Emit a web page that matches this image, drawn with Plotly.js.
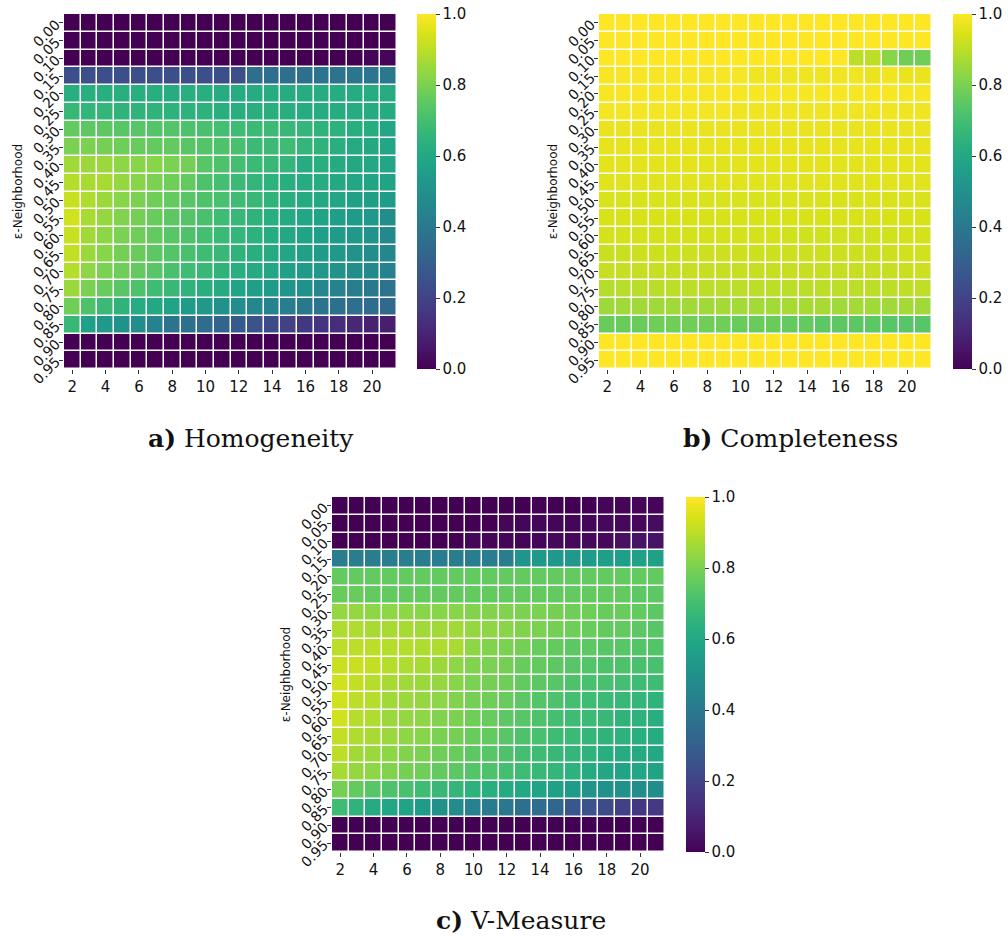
<!DOCTYPE html>
<html>
<head>
<meta charset="utf-8">
<script src="https://cdn.plot.ly/plotly-3.0.1.min.js"></script>
<style>html,body{margin:0;padding:0;background:#fff;}#chart{width:1008px;height:938px;}</style>
</head>
<body>
<div id="chart"></div>
<script>
const minPts = [2,3,4,5,6,7,8,9,10,11,12,13,14,15,16,17,18,19,20,21];
const epsLabels = ["0.00","0.05","0.10","0.15","0.20","0.25","0.30","0.35","0.40","0.45","0.50","0.55","0.60","0.65","0.70","0.75","0.80","0.85","0.90","0.95"];
const colorbarTicks = [0,0.2,0.4,0.6,0.8,1.0];
const panelTitles = ["<b>a)</b> Homogeneity","<b>b)</b> Completeness","<b>c)</b> V-Measure"];

const homogeneity = [
 [0,0,0,0,0,0,0,0,0,0,0,0,0,0,0,0,0,0,0,0],
 [0,0,0,0,0,0,0,0,0,0,0,0,0,0,0,0,0,0,0,0],
 [0,0,0,0,0,0,0,0,0,0,0,0,0,0,0,0,0,0,0.01,0.01],
 [0.24,0.24,0.24,0.24,0.24,0.24,0.24,0.24,0.24,0.24,0.24,0.36,0.36,0.37,0.37,0.38,0.38,0.39,0.39,0.40],
 [0.63,0.63,0.63,0.63,0.63,0.63,0.62,0.63,0.63,0.62,0.62,0.62,0.62,0.62,0.62,0.62,0.62,0.62,0.62,0.62],
 [0.67,0.66,0.66,0.65,0.65,0.65,0.64,0.64,0.64,0.63,0.63,0.63,0.63,0.63,0.62,0.62,0.62,0.62,0.61,0.61],
 [0.76,0.75,0.75,0.74,0.74,0.73,0.73,0.72,0.71,0.70,0.69,0.68,0.68,0.67,0.66,0.65,0.64,0.63,0.62,0.59],
 [0.80,0.80,0.79,0.78,0.77,0.76,0.76,0.74,0.73,0.72,0.71,0.68,0.68,0.69,0.66,0.65,0.63,0.61,0.60,0.59],
 [0.86,0.85,0.85,0.83,0.82,0.82,0.80,0.79,0.74,0.72,0.70,0.68,0.67,0.66,0.62,0.63,0.61,0.60,0.60,0.59],
 [0.89,0.87,0.87,0.84,0.82,0.80,0.78,0.76,0.72,0.70,0.68,0.66,0.64,0.63,0.62,0.62,0.60,0.59,0.58,0.58],
 [0.92,0.88,0.85,0.82,0.80,0.78,0.76,0.74,0.72,0.71,0.69,0.67,0.65,0.63,0.61,0.60,0.59,0.57,0.56,0.55],
 [0.93,0.87,0.84,0.81,0.79,0.77,0.75,0.73,0.71,0.69,0.67,0.65,0.63,0.61,0.59,0.58,0.56,0.55,0.53,0.49],
 [0.92,0.86,0.83,0.80,0.78,0.76,0.74,0.72,0.70,0.68,0.66,0.64,0.62,0.60,0.58,0.56,0.55,0.53,0.51,0.47],
 [0.91,0.85,0.82,0.79,0.77,0.75,0.73,0.71,0.69,0.67,0.65,0.63,0.61,0.59,0.57,0.55,0.53,0.51,0.49,0.46],
 [0.89,0.83,0.80,0.78,0.76,0.74,0.71,0.69,0.67,0.65,0.63,0.61,0.59,0.57,0.55,0.53,0.51,0.49,0.47,0.44],
 [0.85,0.80,0.77,0.74,0.72,0.69,0.67,0.65,0.63,0.61,0.58,0.56,0.54,0.52,0.50,0.46,0.44,0.42,0.40,0.38],
 [0.78,0.72,0.68,0.65,0.62,0.60,0.58,0.55,0.53,0.50,0.48,0.46,0.44,0.42,0.40,0.38,0.37,0.36,0.35,0.34],
 [0.67,0.57,0.53,0.50,0.48,0.44,0.38,0.37,0.35,0.32,0.28,0.26,0.23,0.19,0.16,0.15,0.13,0.11,0.09,0.08],
 [0,0,0,0,0,0,0,0,0,0,0,0,0,0,0,0,0,0,0,0],
 [0,0,0,0,0,0,0,0,0,0,0,0,0,0,0,0,0,0,0,0]
];

const completeness = [
 [1,1,1,1,1,1,1,1,1,1,1,1,1,1,1,1,1,1,1,1],
 [1,1,1,1,1,1,1,1,1,1,1,1,1,1,1,1,1,1,1,1],
 [1,1,1,1,1,1,1,1,1,1,1,1,1,1,1,0.90,0.90,0.82,0.78,0.78],
 [0.99,0.99,0.99,0.99,0.99,0.99,0.99,0.99,0.99,0.98,0.98,0.98,0.98,0.98,0.98,0.98,0.97,0.98,0.97,0.97],
 [0.99,0.99,0.99,0.99,0.99,0.99,0.99,0.99,0.99,0.99,0.99,0.99,0.99,0.99,0.99,0.99,0.99,0.99,0.99,0.99],
 [0.985,0.985,0.985,0.985,0.985,0.985,0.985,0.985,0.98,0.98,0.98,0.98,0.98,0.98,0.98,0.98,0.98,0.98,0.98,0.98],
 [0.97,0.97,0.97,0.97,0.97,0.97,0.97,0.97,0.97,0.97,0.97,0.97,0.97,0.97,0.97,0.97,0.97,0.97,0.97,0.97],
 [0.965,0.965,0.965,0.965,0.965,0.965,0.965,0.965,0.965,0.965,0.965,0.965,0.965,0.965,0.965,0.965,0.965,0.965,0.965,0.965],
 [0.96,0.96,0.96,0.96,0.96,0.96,0.96,0.955,0.96,0.96,0.96,0.96,0.96,0.96,0.96,0.96,0.96,0.96,0.96,0.96],
 [0.955,0.955,0.955,0.955,0.955,0.955,0.955,0.955,0.955,0.955,0.955,0.955,0.955,0.955,0.955,0.955,0.955,0.955,0.955,0.955],
 [0.945,0.945,0.945,0.945,0.945,0.945,0.945,0.945,0.945,0.945,0.945,0.945,0.945,0.945,0.945,0.945,0.945,0.945,0.945,0.945],
 [0.94,0.94,0.94,0.94,0.94,0.94,0.94,0.94,0.94,0.94,0.94,0.94,0.94,0.94,0.94,0.94,0.94,0.94,0.94,0.94],
 [0.935,0.935,0.935,0.935,0.935,0.935,0.935,0.935,0.935,0.935,0.935,0.93,0.93,0.93,0.93,0.93,0.93,0.93,0.935,0.935],
 [0.92,0.92,0.925,0.925,0.925,0.925,0.925,0.925,0.925,0.925,0.925,0.925,0.925,0.925,0.925,0.925,0.925,0.925,0.93,0.93],
 [0.915,0.915,0.915,0.915,0.915,0.915,0.915,0.915,0.915,0.915,0.915,0.915,0.915,0.915,0.915,0.915,0.915,0.915,0.92,0.925],
 [0.89,0.895,0.895,0.895,0.9,0.9,0.9,0.9,0.9,0.9,0.9,0.9,0.9,0.9,0.9,0.9,0.9,0.9,0.905,0.905],
 [0.855,0.86,0.86,0.86,0.86,0.86,0.86,0.865,0.865,0.865,0.865,0.87,0.87,0.87,0.86,0.865,0.86,0.86,0.865,0.86],
 [0.77,0.77,0.77,0.78,0.78,0.78,0.78,0.78,0.77,0.77,0.77,0.76,0.76,0.75,0.75,0.75,0.75,0.74,0.74,0.74],
 [1,1,1,1,1,1,1,1,1,1,1,1,1,1,1,1,1,1,1,1],
 [1,1,1,1,1,1,1,1,1,1,1,1,1,1,1,1,1,1,1,1]
];

const vmeasure = [
 [0,0,0,0,0,0,0,0,0,0,0,0,0,0,0,0,0.01,0.01,0.01,0.01],
 [0,0,0,0,0,0,0,0,0,0,0.01,0.01,0.01,0.01,0.01,0.01,0.02,0.02,0.02,0.03],
 [0,0,0,0,0,0,0,0,0.01,0.01,0.01,0.01,0.01,0.02,0.02,0.02,0.02,0.04,0.05,0.05],
 [0.42,0.42,0.42,0.42,0.42,0.42,0.42,0.42,0.42,0.42,0.42,0.52,0.53,0.53,0.53,0.55,0.56,0.56,0.57,0.57],
 [0.76,0.76,0.76,0.76,0.76,0.76,0.76,0.76,0.76,0.76,0.76,0.76,0.76,0.76,0.76,0.76,0.76,0.76,0.76,0.76],
 [0.77,0.77,0.76,0.76,0.76,0.76,0.76,0.76,0.76,0.76,0.76,0.76,0.76,0.76,0.76,0.76,0.76,0.76,0.75,0.75],
 [0.84,0.84,0.83,0.83,0.83,0.82,0.82,0.82,0.81,0.81,0.81,0.80,0.80,0.79,0.78,0.78,0.77,0.77,0.76,0.75],
 [0.88,0.88,0.87,0.87,0.87,0.86,0.86,0.86,0.84,0.83,0.82,0.81,0.80,0.79,0.78,0.77,0.76,0.76,0.75,0.74],
 [0.90,0.90,0.90,0.89,0.89,0.88,0.88,0.87,0.83,0.81,0.80,0.79,0.77,0.76,0.75,0.75,0.74,0.74,0.73,0.73],
 [0.92,0.92,0.91,0.89,0.88,0.87,0.85,0.83,0.81,0.80,0.79,0.77,0.76,0.75,0.74,0.73,0.72,0.72,0.71,0.71],
 [0.93,0.91,0.89,0.87,0.86,0.85,0.84,0.82,0.80,0.79,0.78,0.76,0.75,0.74,0.72,0.71,0.71,0.70,0.69,0.69],
 [0.93,0.90,0.89,0.86,0.85,0.84,0.83,0.81,0.79,0.78,0.77,0.75,0.73,0.72,0.70,0.69,0.68,0.67,0.66,0.65],
 [0.93,0.89,0.88,0.85,0.84,0.83,0.81,0.80,0.78,0.77,0.75,0.74,0.72,0.70,0.69,0.68,0.67,0.65,0.64,0.63],
 [0.91,0.88,0.87,0.85,0.83,0.82,0.80,0.79,0.77,0.76,0.74,0.72,0.71,0.69,0.68,0.66,0.65,0.64,0.63,0.62],
 [0.90,0.86,0.85,0.83,0.81,0.80,0.78,0.77,0.75,0.74,0.72,0.70,0.69,0.67,0.66,0.65,0.63,0.62,0.61,0.60],
 [0.87,0.84,0.83,0.81,0.79,0.78,0.76,0.75,0.73,0.72,0.70,0.69,0.67,0.66,0.64,0.61,0.59,0.58,0.59,0.58],
 [0.79,0.76,0.74,0.72,0.71,0.69,0.67,0.66,0.64,0.63,0.61,0.60,0.58,0.57,0.55,0.51,0.50,0.50,0.49,0.49],
 [0.69,0.65,0.61,0.59,0.58,0.55,0.50,0.48,0.44,0.41,0.40,0.37,0.35,0.33,0.27,0.25,0.23,0.19,0.16,0.17],
 [0,0,0,0,0,0,0,0,0,0,0,0,0,0,0,0,0,0,0,0],
 [0,0,0,0,0,0,0,0,0,0,0,0,0,0,0,0,0,0,0,0]
];

const W = 1008, H = 938;
const fx = p => p / W;
const fy = p => 1 - p / H;

const panels = [
  {z: homogeneity, box:[64,397,14,369], cb:417, xa:'x', ya:'y'},
  {z: completeness, box:[599,932,14,369], cb:953, xa:'x2', ya:'y2'},
  {z: vmeasure, box:[332,665,497,852], cb:686, xa:'x3', ya:'y3'}
];

const tickFont = {family:'DejaVu Sans', size:15, color:'#111'};
const traces = [];
const layout = {
  width: W, height: H,
  margin: {l:0, r:0, t:0, b:0},
  paper_bgcolor:'#fff', plot_bgcolor:'#fff',
  showlegend:false,
  annotations: []
};

panels.forEach((p, i) => {
  const [l, r, t, b] = p.box;
  traces.push({
    type:'heatmap',
    z: p.z, x: minPts, y: epsLabels,
    xaxis: p.xa, yaxis: p.ya,
    colorscale:'Viridis', zmin:0, zmax:1,
    xgap:1.5, ygap:1.5,
    colorbar:{
      x: fx(p.cb), xanchor:'left', xpad:0,
      y: (fy(t)+fy(b))/2, yanchor:'middle', ypad:0,
      len: (b - t)/H, lenmode:'fraction',
      thickness:19, thicknessmode:'pixels',
      outlinewidth:0,
      tickvals: colorbarTicks, tickformat:'.1f',
      ticks:'outside', ticklen:4, tickcolor:'#333',
      tickfont: tickFont
    }
  });
  const sfx = i === 0 ? '' : String(i+1);
  layout['xaxis'+sfx] = {
    domain:[fx(l), fx(r)], anchor: p.ya,
    range:[1.5, 21.5], tick0:2, dtick:2,
    ticks:'outside', ticklen:4, tickcolor:'#333',
    showgrid:false, zeroline:false, showline:false,
    tickfont: tickFont, fixedrange:true
  };
  layout['yaxis'+sfx] = {
    domain:[fy(b), fy(t)], anchor: p.xa,
    type:'category', autorange:'reversed',
    ticks:'outside', ticklen:4, tickcolor:'#333',
    tickangle:-45,
    showgrid:false, zeroline:false, showline:false,
    tickfont:{family:'DejaVu Sans', size:14, color:'#111'},
    title:{text:'ε-Neighborhood', font:{family:'DejaVu Sans', size:12, color:'#111'}, standoff:4},
    fixedrange:true
  };
});

const titlePos = [[251, 438], [790, 438], [521, 920]];
panelTitles.forEach((txt, i) => {
  layout.annotations.push({
    text: txt, xref:'paper', yref:'paper',
    x: fx(titlePos[i][0]), y: fy(titlePos[i][1]),
    xanchor:'center', yanchor:'middle', showarrow:false,
    font:{family:'DejaVu Serif', size:25, color:'#111'}
  });
});

Plotly.newPlot('chart', traces, layout, {displayModeBar:false, staticPlot:true});
</script>
</body>
</html>
